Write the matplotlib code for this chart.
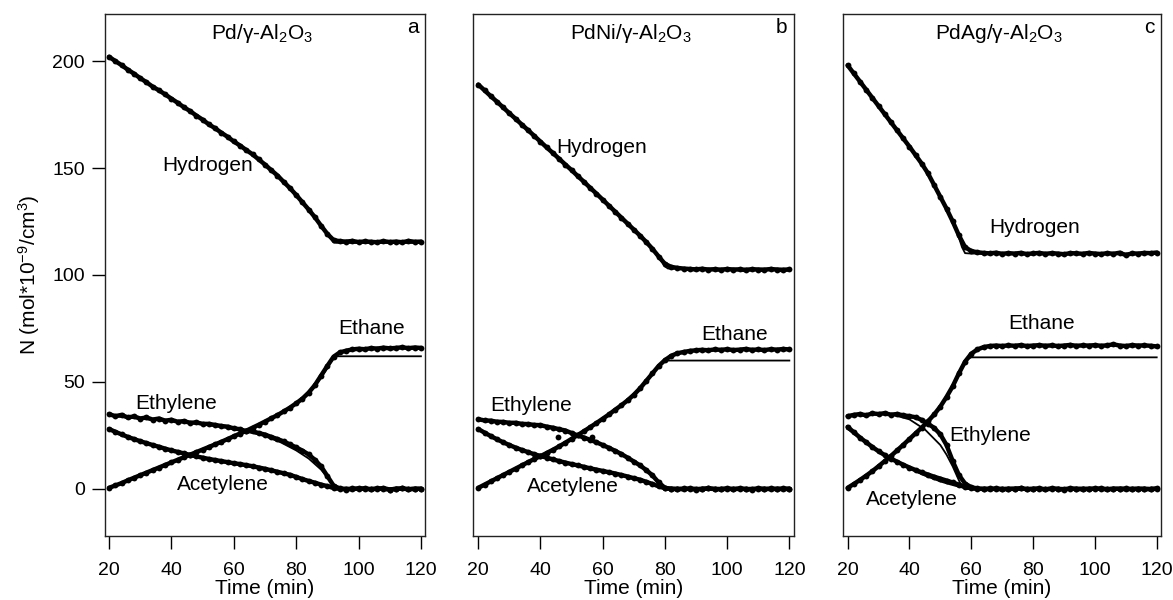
import numpy as np
import matplotlib
matplotlib.use("Agg")
import matplotlib.pyplot as plt

plt.rcParams['font.family'] = ['Liberation Sans', 'DejaVu Sans']
plt.rcParams['mathtext.fontset'] = 'custom'
plt.rcParams['mathtext.rm'] = 'Liberation Sans'
plt.rcParams['mathtext.it'] = 'Liberation Sans:italic'

# measured time grid (min)
t = np.arange(20, 121, 2)

# ---- panel a: Pd/g-Al2O3 (measured) ----
h2_a = [202.0, 200.0, 198.1, 196.0, 194.1, 192.0, 190.1, 188.0, 186.3, 184.4,
        182.4, 180.5, 178.4, 176.6, 174.5, 172.6, 170.4, 168.6, 166.5, 164.6,
        162.4, 160.5, 158.4, 156.4, 154.0, 151.6, 149.0, 146.5, 143.5, 140.6,
        137.4, 134.0, 130.6, 127.0, 123.0, 119.2, 116.3, 115.8, 115.6, 115.9,
        115.4, 115.7, 115.5, 115.3, 115.8, 115.4, 115.6, 115.3, 115.9, 115.5,
        115.6]
c2h6_a = [0.5, 1.6, 2.7, 4.0, 5.2, 6.4, 7.6, 8.8, 10.0, 11.2,
          12.4, 13.6, 14.8, 16.0, 17.2, 18.4, 19.6, 20.8, 22.0, 23.3,
          24.6, 25.9, 27.2, 28.6, 30.0, 31.5, 33.0, 34.5, 36.2, 38.0,
          40.0, 42.2, 45.0, 48.5, 53.0, 57.5, 61.8, 63.8, 64.6, 65.2,
          65.5, 65.3, 65.8, 65.6, 66.0, 65.7, 65.9, 66.2, 65.8, 66.1,
          65.9]
c2h4_a = [35.0, 34.0, 34.6, 33.4, 33.9, 32.9, 33.4, 32.4, 32.9, 31.9,
          32.3, 31.4, 31.7, 30.9, 31.1, 30.4, 30.4, 29.9, 29.4, 29.1,
          28.3, 27.9, 27.0, 26.9, 26.1, 25.4, 24.3, 23.3, 22.2, 20.8,
          19.4, 17.9, 16.1, 13.6, 10.5, 6.0, 1.5, 0.2, -0.3, 0.2,
          0.0, 0.3, -0.2, 0.1, 0.4, -0.3, 0.0, 0.2, -0.2, 0.1,
          0.0]
c2h2_a = [28.0, 26.7, 25.5, 24.3, 23.3, 22.3, 21.4, 20.5, 19.7, 18.8,
          18.0, 17.3, 16.6, 15.9, 15.2, 14.6, 14.0, 13.5, 13.0, 12.5,
          12.0, 11.6, 11.1, 10.6, 10.0, 9.4, 8.7, 8.0, 7.3, 6.6,
          5.6, 4.6, 3.7, 2.9, 2.0, 1.3, 0.4, 0.0, 0.1, -0.2,
          0.3, 0.0, -0.1, 0.2, 0.0, -0.3, 0.1, 0.2, -0.1, 0.0,
          0.1]
# model fits
fit_t_a = [20, 30, 40, 50, 60, 65, 70, 75, 80, 84, 88, 90, 92, 93, 120]
fit_h2_a = [202, 192, 182.4, 172.6, 162.4, 157.4, 151.6, 145.2, 137.4, 130.6, 123, 118.8, 115.2, 115, 115]
fit_c2h6_a = [0.5, 6.4, 12.4, 18.4, 24.6, 27.9, 31.5, 35.3, 40.0, 44.4, 52.0, 56.5, 61.5, 62.0, 62.0]
fit_c2h4_a = [34.2, 32.8, 31.6, 30.2, 28.2, 26.6, 24.6, 21.8, 18.0, 14.2, 9.0, 5.5, 1.0, 0.0, 0.0]
fit_c2h2_a = [28.0, 22.3, 18.0, 14.6, 12.0, 10.9, 9.6, 7.9, 5.9, 4.0, 2.1, 1.2, 0.2, 0.0, 0.0]

# ---- panel b: PdNi/g-Al2O3 (measured) ----
h2_b = [189.0, 186.3, 183.6, 181.0, 178.3, 175.6, 173.0, 170.3, 167.7, 165.0,
        162.3, 159.6, 157.0, 154.3, 151.6, 149.0, 146.2, 143.5, 140.7, 138.0,
        135.2, 132.4, 129.6, 126.8, 124.0, 121.2, 118.4, 115.4, 112.2, 108.6,
        105.2, 103.8, 103.3, 103.0, 102.8, 102.6, 102.9, 102.5, 102.7, 102.4,
        102.8, 102.5, 102.6, 102.3, 102.7, 102.5, 102.4, 102.8, 102.5, 102.3,
        102.6]
c2h6_b = [0.5, 2.0, 3.5, 5.0, 6.5, 8.0, 9.5, 11.0, 12.5, 14.0,
          15.3, 16.8, 18.3, 19.9, 21.6, 23.4, 25.2, 27.0, 28.9, 30.8,
          32.8, 34.8, 37.0, 39.1, 41.4, 44.0, 47.0, 50.5, 54.0, 57.5,
          60.2, 62.2, 63.4, 64.0, 64.5, 64.8, 65.0, 64.8, 65.2, 65.0,
          65.3, 64.9, 65.1, 65.4, 65.0, 65.2, 64.9, 65.3, 65.1, 65.4,
          65.2]
c2h4_b = [32.6, 32.0, 31.9, 31.4, 31.3, 30.9, 30.9, 30.4, 30.3, 29.9,
          29.8, 29.1, 28.6, 27.9, 27.3, 26.1, 25.0, 24.0, 22.9, 21.8,
          20.5, 19.2, 17.8, 16.3, 14.6, 12.8, 11.0, 8.8, 6.3, 3.0,
          0.5, 0.1, -0.2, 0.2, 0.0, -0.3, 0.1, 0.2, -0.1, 0.0,
          0.2, -0.2, 0.1, 0.0, -0.3, 0.2, 0.1, -0.1, 0.0, 0.2,
          0.1]
c2h2_b = [28.0, 26.3, 24.7, 23.2, 21.8, 20.5, 19.3, 18.2, 17.2, 16.2,
          15.4, 14.6, 13.8, 13.0, 12.3, 11.6, 11.0, 10.3, 9.6, 9.0,
          8.4, 7.8, 7.2, 6.5, 5.8, 5.0, 4.3, 3.3, 2.3, 1.2,
          0.3, 0.0, 0.1, -0.2, 0.2, 0.0, -0.1, 0.3, 0.0, -0.2,
          0.1, 0.0, 0.2, -0.1, 0.0, 0.1, -0.2, 0.2, 0.0, -0.1,
          0.0]
stray_t_b = [45.7, 56.6]
stray_n_b = [24.2, 24.2]
fit_t_b = [20, 30, 40, 50, 60, 65, 70, 74, 77, 79, 80, 81, 120]
fit_h2_b = [189, 175.6, 162.3, 149, 135.2, 128.2, 121.2, 115.4, 110.8, 106.2, 104.0, 103.0, 103.0]
fit_c2h6_b = [0.5, 8.0, 15.3, 23.4, 32.8, 38.0, 44.0, 50.5, 55.8, 59.0, 60.0, 60.0, 60.0]
fit_c2h4_b = [32.4, 30.9, 29.6, 26.3, 20.5, 17.0, 12.8, 8.8, 4.6, 1.2, 0.0, 0.0, 0.0]
fit_c2h2_b = [28.0, 20.5, 15.4, 11.6, 8.4, 6.9, 5.0, 3.3, 1.8, 0.6, 0.1, 0.0, 0.0]

# ---- panel c: PdAg/g-Al2O3 (measured) ----
h2_c = [198.0, 194.2, 190.4, 186.6, 182.8, 179.0, 175.2, 171.4, 167.6, 163.8,
        160.0, 156.0, 152.0, 147.5, 142.0, 136.5, 131.0, 125.0, 118.5, 113.0,
        111.2, 110.6, 110.3, 110.1, 110.4, 109.9, 110.2, 110.0, 110.3, 109.8,
        110.1, 110.3, 109.9, 110.2, 110.0, 109.7, 110.2, 110.1, 109.9, 110.3,
        110.0, 109.8, 110.2, 109.9, 110.4, 109.3, 110.1, 110.0, 110.3, 110.2,
        110.5]
c2h6_c = [0.5, 2.3, 4.2, 6.2, 8.3, 10.6, 13.0, 15.4, 18.0, 20.6,
          23.3, 26.0, 28.7, 31.6, 34.8, 38.5, 43.0, 48.0, 54.0, 59.5,
          63.2, 65.2, 66.3, 66.8, 67.0, 66.8, 67.1, 66.9, 67.2, 66.8,
          67.0, 67.2, 66.9, 67.1, 66.8, 67.0, 67.3, 66.9, 67.1, 67.0,
          67.2, 66.9, 67.1, 67.6, 67.0, 66.8, 67.2, 67.0, 67.1, 66.9,
          66.6]
c2h4_c = [34.0, 34.6, 35.0, 34.4, 35.3, 35.0, 35.4, 34.7, 35.0, 34.4,
          34.0, 33.5, 32.2, 30.5, 28.5, 25.5, 20.5, 13.0, 6.5, 2.5,
          0.8, 0.2, -0.1, 0.2, 0.0, -0.2, 0.1, 0.0, 0.3, -0.1,
          0.0, 0.2, -0.2, 0.1, 0.0, -0.3, 0.2, 0.0, 0.1, -0.1,
          0.2, 0.0, -0.2, 0.1, 0.0, 0.2, -0.1, 0.0, 0.1, -0.2,
          0.1]
c2h2_c = [29.0, 26.5, 24.0, 21.8, 19.6, 17.6, 15.8, 14.2, 12.7, 11.3,
          10.0, 8.8, 7.7, 6.7, 5.7, 4.8, 3.9, 3.0, 2.0, 1.0,
          0.3, 0.0, 0.1, -0.2, 0.2, 0.0, -0.1, 0.1, 0.2, -0.1,
          0.0, 0.1, -0.2, 0.2, 0.0, -0.1, 0.1, 0.0, -0.2, 0.1,
          0.0, 0.2, -0.1, 0.0, 0.1, -0.2, 0.0, 0.1, -0.1, 0.0,
          0.2]
fit_t_c = [20, 25, 30, 35, 40, 45, 50, 52, 54, 56, 57, 58, 60, 120]
fit_h2_c = [198, 188.5, 179, 169.5, 160, 149.5, 136.5, 131, 125, 117.5, 113.0, 110.2, 110, 110]
fit_c2h6_c = [0.5, 5.2, 10.6, 16.7, 23.3, 30.1, 38.5, 43.0, 48.0, 54.0, 57.0, 60.0, 61.5, 61.5]
fit_c2h4_c = [34.0, 34.8, 35.0, 34.5, 32.5, 27.8, 20.5, 16.0, 10.5, 4.0, 1.0, 0.0, 0.0, 0.0]
fit_c2h2_c = [28.0, 22.5, 17.8, 13.5, 9.5, 6.2, 3.5, 2.6, 1.8, 1.0, 0.7, 0.4, 0.0, 0.0]

panels = [
    dict(title='Pd/γ-Al$_2$O$_3$', tag='a', pos=[0.0895, 0.1067, 0.2728, 0.87], xlim=(18.7, 121.3),
         data=[h2_a, c2h6_a, c2h4_a, c2h2_a], fit_t=fit_t_a,
         fits=[fit_h2_a, fit_c2h6_a, fit_c2h4_a, fit_c2h2_a],
         labels=[(51.7, 151.4), (104.3, 75.0), (41.5, 40.0), (56.5, 2.2)]),
    dict(title='PdNi/γ-Al$_2$O$_3$', tag='b', pos=[0.4035, 0.1067, 0.2734, 0.87], xlim=(18.4, 121.5),
         data=[h2_b, c2h6_b, c2h4_b, c2h2_b], fit_t=fit_t_b,
         fits=[fit_h2_b, fit_c2h6_b, fit_c2h4_b, fit_c2h2_b],
         labels=[(59.8, 159.8), (102.5, 72.0), (36.9, 38.8), (50.4, 1.0)]),
    dict(title='PdAg/γ-Al$_2$O$_3$', tag='c', pos=[0.7184, 0.1067, 0.2714, 0.87], xlim=(18.4, 121.4),
         data=[h2_c, c2h6_c, c2h4_c, c2h2_c], fit_t=fit_t_c,
         fits=[fit_h2_c, fit_c2h6_c, fit_c2h4_c, fit_c2h2_c],
         labels=[(80.6, 122.0), (82.6, 77.1), (66.0, 25.2), (40.8, -5.1)]),
]
names = ['Hydrogen', 'Ethane', 'Ethylene', 'Acetylene']

fig = plt.figure(figsize=(11.73, 6.0), dpi=100)

for i, p in enumerate(panels):
    ax = fig.add_axes(p['pos'])
    for y in p['data']:
        ax.plot(t, y, '-', color='black', lw=3.2, solid_capstyle='round')
        ax.plot(t, y, 'o', color='black', ms=4.2, mew=0)
    for y in p['fits']:
        ax.plot(p['fit_t'], y, '-', color='black', lw=1.3)
    if p['tag'] == 'b':
        ax.plot(stray_t_b, stray_n_b, 'o', color='black', ms=4.2, mew=0)

    for name, (x, y) in zip(names, p['labels']):
        ax.text(x, y, name, ha='center', va='center', fontsize=15)
    ax.text(0.49, 0.962, p['title'], transform=ax.transAxes, ha='center', va='center', fontsize=15)
    ax.text(0.962, 0.975, p['tag'], transform=ax.transAxes, ha='center', va='center', fontsize=15)

    ax.set_xlim(*p['xlim'])
    ax.set_ylim(-22, 222)
    ax.set_xticks([20, 40, 60, 80, 100, 120])
    ax.tick_params(axis='x', direction='out', length=9.5, width=1.0, labelsize=14, pad=9)
    if i == 0:
        ax.set_yticks([0, 50, 100, 150, 200])
        ax.tick_params(axis='y', direction='out', length=9.5, width=1.0, labelsize=14, pad=5)
    else:
        ax.set_yticks([])
    for s in ax.spines.values():
        s.set_linewidth(1.0)
        s.set_color('#222222')
    ax.set_xlabel('Time (min)', fontsize=15, labelpad=0)

fig.text(29 / 1173, 1 - 275 / 600, 'N (mol*10$^{-9}$/cm$^{3}$)', rotation=90,
         ha='center', va='center', fontsize=15)

fig.savefig('out.png', dpi=100)
